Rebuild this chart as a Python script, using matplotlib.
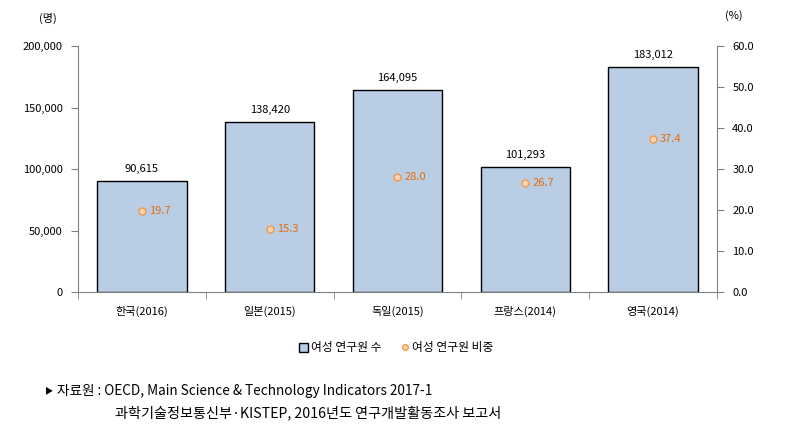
import matplotlib
matplotlib.use('Agg')
import matplotlib.pyplot as plt
from matplotlib.ticker import FuncFormatter
from matplotlib.lines import Line2D
from matplotlib.patches import Patch

plt.rcParams['font.family'] = ['Noto Sans CJK KR', 'DejaVu Sans']

countries = ['한국(2016)', '일본(2015)', '독일(2015)', '프랑스(2014)', '영국(2014)']
researchers = [90615, 138420, 164095, 101293, 183012]
female_share = [19.7, 15.3, 28.0, 26.7, 37.4]

bar_color = '#B9CDE5'
dot_color = '#F79646'
label_orange = '#E46C0A'
axis_gray = '#808080'

fig = plt.figure(figsize=(8.03, 4.37), dpi=100)
ax = fig.add_axes([0.0971, 0.3318, 0.7958, 0.5629])
ax2 = ax.twinx()

x = list(range(len(countries)))
ax.bar(x, researchers, width=0.70, color=bar_color, edgecolor='black', linewidth=1.0, zorder=2)
for xi, v in zip(x, researchers):
    ax.annotate(f'{v:,}', (xi, v), xytext=(0, 5), textcoords='offset points',
                ha='center', va='bottom', fontsize=8)

ax.set_xlim(-0.5, len(countries) - 0.5)
ax.set_ylim(0, 200000)
ax.set_yticks(range(0, 200001, 50000))
ax.yaxis.set_major_formatter(FuncFormatter(lambda v, p: f'{int(v):,}'))
ax.set_xticks(x)
ax.set_xticklabels(countries, fontsize=8)
ax.tick_params(axis='x', length=0, pad=10)
ax.set_xticks([i + 0.5 for i in range(-1, len(countries))], minor=True)
ax.tick_params(axis='x', which='minor', length=5, color=axis_gray, direction='out')
ax.tick_params(axis='y', labelsize=8, length=5, color=axis_gray, pad=6)

ax2.plot(x, female_share, linestyle='none', marker='o', markersize=5,
         markerfacecolor='#FCD5B4', markeredgecolor=dot_color, markeredgewidth=1.0, zorder=3)
for xi, v in zip(x, female_share):
    ax2.annotate(f'{v:.1f}', (xi, v), xytext=(5, 0), textcoords='offset points',
                 ha='left', va='center', fontsize=8, color=label_orange)
ax2.set_ylim(0, 60)
ax2.set_yticks(range(0, 61, 10))
ax2.yaxis.set_major_formatter(FuncFormatter(lambda v, p: f'{v:.1f}'))
ax2.tick_params(axis='y', labelsize=8, length=5, color=axis_gray, pad=6)

for a in (ax, ax2):
    a.spines['top'].set_visible(False)
    for s in ('left', 'right', 'bottom'):
        a.spines[s].set_color(axis_gray)
ax.spines['right'].set_visible(False)
ax2.spines['left'].set_visible(False)
ax2.spines['bottom'].set_visible(False)

fig.text(48 / 803, 1 - 18 / 437, '(명)', ha='center', va='center', fontsize=8)
fig.text(734 / 803, 1 - 16 / 437, '(%)', ha='center', va='center', fontsize=8)

handles = [
    Patch(facecolor=bar_color, edgecolor='black', linewidth=1.0, label='여성 연구원 수'),
    Line2D([], [], linestyle='none', marker='o', markersize=4, markerfacecolor='#FCD5B4',
           markeredgecolor=dot_color, label='여성 연구원 비중'),
]
fig.legend(handles=handles, loc='center', bbox_to_anchor=(396 / 803, 1 - 348 / 437), ncol=2,
           frameon=False, fontsize=8.5, handlelength=0.8, handleheight=0.8, handletextpad=0.2,
           columnspacing=1.6)

fig.text(45 / 803, 1 - 391 / 437, '▶', ha='left', va='center', fontsize=6)
fig.text(57 / 803, 1 - 391 / 437, '자료원 : OECD, Main Science & Technology Indicators 2017-1',
         ha='left', va='center', fontsize=9.8)
fig.text(115 / 803, 1 - 413 / 437, '과학기술정보통신부·KISTEP, 2016년도 연구개발활동조사 보고서',
         ha='left', va='center', fontsize=10.2)

fig.savefig('out.png', dpi=100)
